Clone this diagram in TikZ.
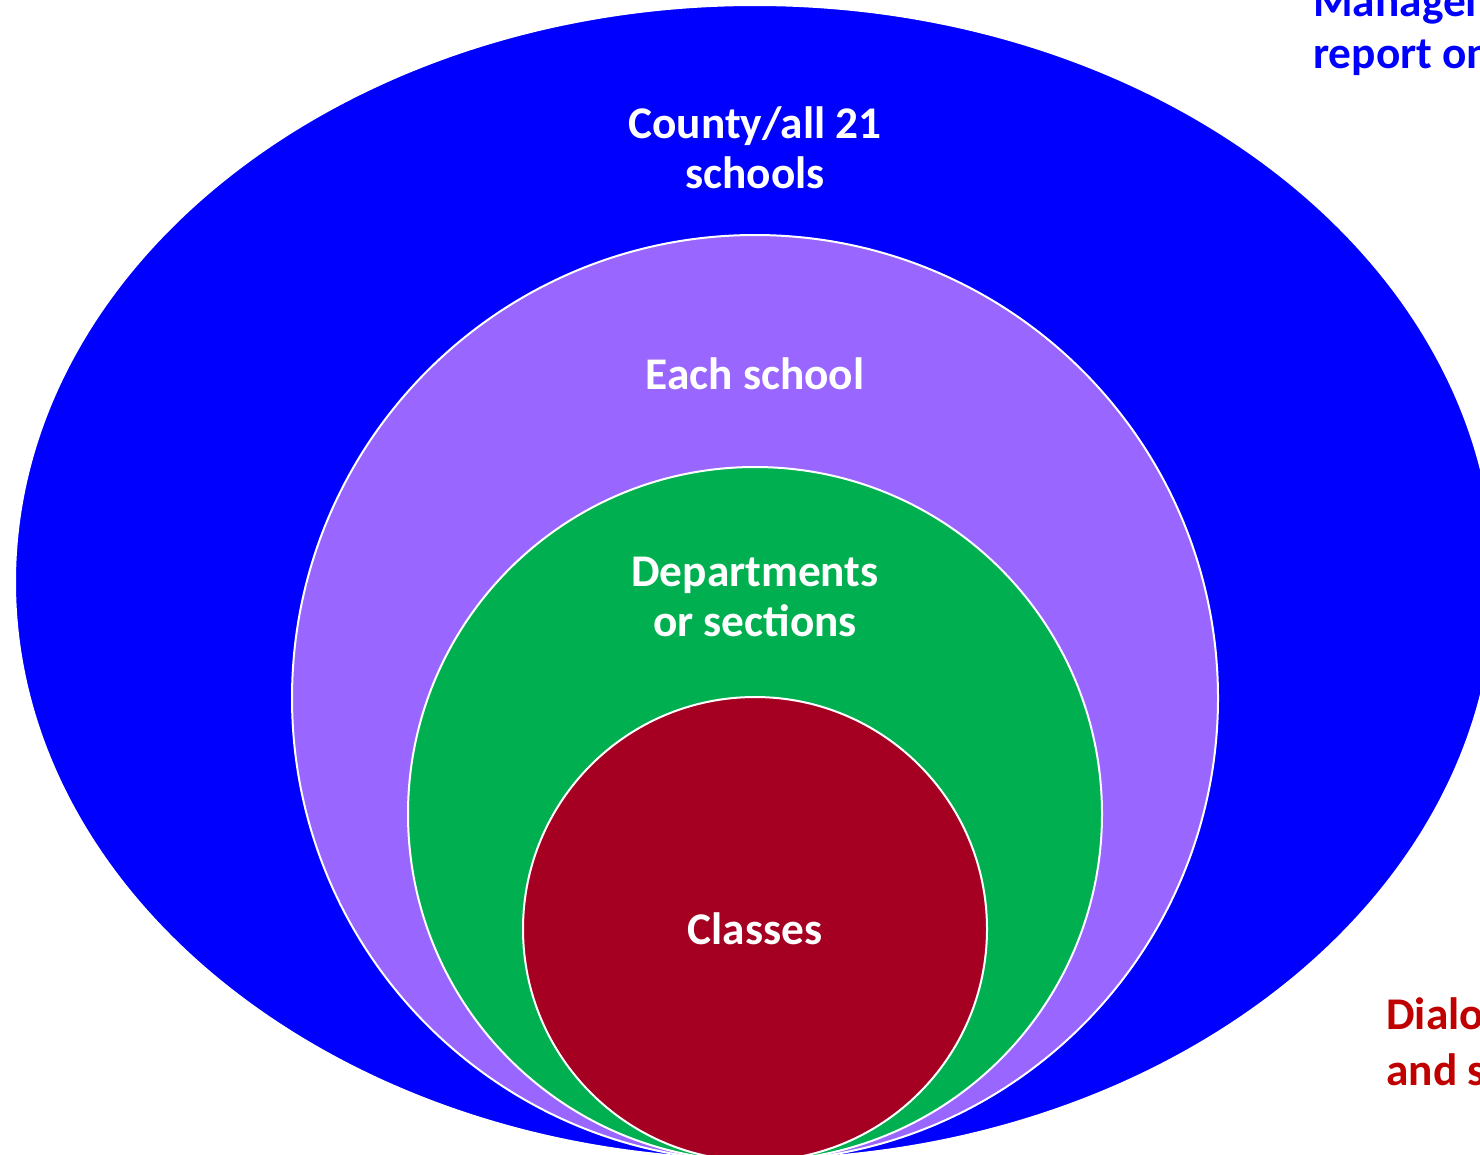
\documentclass[tikz,border=0pt]{standalone}
\usepackage{fontspec}
\setmainfont{Carlito}
\definecolor{cblue}{HTML}{0000FF}
\definecolor{cpurple}{HTML}{9966FF}
\definecolor{cgreen}{HTML}{00B050}
\definecolor{cred}{HTML}{A50021}
\definecolor{tred}{HTML}{C00000}
\tikzset{
  ring/.style={draw=white, line width=1.5pt},
  lab/.style={text=white, font=\fontsize{34}{37.5}\selectfont\bfseries, align=center, inner sep=0pt},
  side/.style={font=\fontsize{34}{37.5}\selectfont\bfseries, anchor=west, inner sep=0pt}
}
\begin{document}
\begin{tikzpicture}[x=0.75pt,y=-0.75pt]
\useasboundingbox (0,0) rectangle (1480,1154);
\clip (0,0) rectangle (1480,1154);
\fill[white] (0,0) rectangle (1480,1154);
\path[ring, fill=cblue] (755,582) ellipse [x radius=740, y radius=577];
\node[circle, ring, fill=cpurple, minimum size=926*0.75pt, inner sep=0pt] (school) at (755,698) {};
\node[circle, ring, fill=cgreen, minimum size=694*0.75pt, inner sep=0pt] (dept) at (755,814) {};
\node[circle, ring, fill=cred, minimum size=464*0.75pt, inner sep=0pt] (classes) at (755,929) {};
\node[lab] (county) at (755,148) {County/all 21\\schools};
\node[lab] (each) at (755,374) {Each school};
\node[lab] (deptl) at (755,597) {Departments\\or sections};
\node[lab] (cl) at (755,929) {Classes};
\node[side, text=cblue] (m1) at (1313,6) {Management};
\node[side, text=cblue] (m2) at (1313,58) {report on};
\node[side, text=tred] (d1) at (1386,1017) {Dialogue};
\node[side, text=tred] (d2) at (1386,1073) {and sharing};
\end{tikzpicture}
\end{document}
